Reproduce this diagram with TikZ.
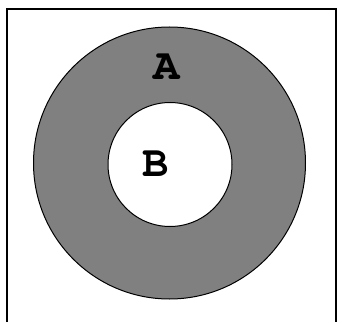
\documentclass[tikz,border=0pt]{standalone}
\usepackage[T1]{fontenc}
\usepackage{xcolor}
\usepackage{tikz}
\definecolor{ringgray}{RGB}{128,128,128}

\begin{document}
\begin{tikzpicture}[x=1pt,y=1pt]
  \useasboundingbox (0,0) rectangle (343,322);
  \draw[line width=2pt] (7,0)--(7,313)--(336,313)--(336,0);
  \node[circle,draw,line width=1pt,fill=ringgray,minimum size=272pt,inner sep=0pt] (outer) at (169.5,159) {};
  \node[circle,draw,line width=1pt,fill=white,minimum size=124pt,inner sep=0pt] (inner) at (170,157.5) {};
  \node[font=\fontfamily{pcr}\fontseries{b}\fontsize{44}{44}\selectfont,inner sep=0pt] (labA) at (167,255) {A};
  \node[font=\fontfamily{pcr}\fontseries{b}\fontsize{44}{44}\selectfont,inner sep=0pt] (labB) at (155.5,158) {B};
\end{tikzpicture}
\end{document}
